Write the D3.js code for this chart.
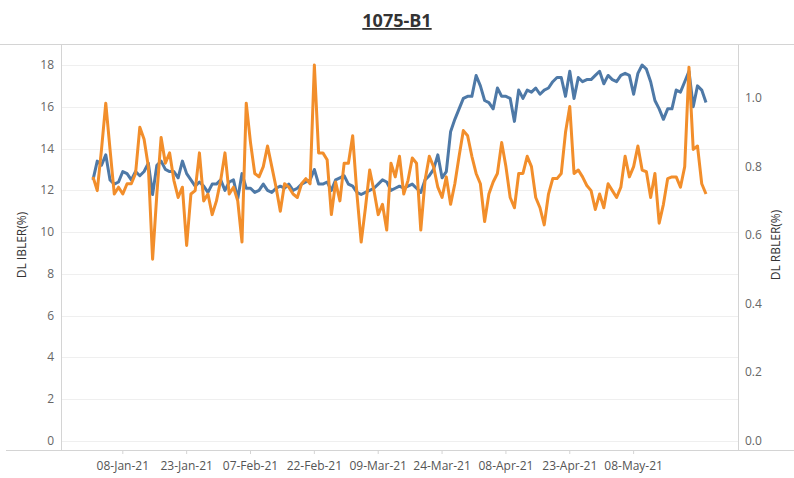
<!DOCTYPE html>
<html><head><meta charset="utf-8">
<script src="https://cdn.jsdelivr.net/npm/d3@7"></script>
<style>body{margin:0;background:#fff;font-family:"Open Sans","Noto Sans",sans-serif}</style>
</head><body><svg id="c" width="794" height="478"></svg>
<script>
const startDate = "2021-01-01";
const ibler = [12.5,13.4,13.2,13.7,12.5,12.3,12.4,12.9,12.8,12.5,12.9,12.7,12.9,13.3,11.8,13.2,13.4,13.0,12.9,12.9,12.6,13.4,12.8,12.5,12.2,12.4,12.2,11.9,12.3,12.3,12.5,12.0,12.4,12.5,11.6,12.8,12.1,12.1,11.9,12.0,12.3,12.0,11.9,12.1,12.2,12.1,12.3,12.0,12.1,12.3,12.4,12.5,13.0,12.3,12.3,12.4,12.0,12.5,12.6,12.7,12.3,12.2,11.9,11.8,11.9,12.0,12.1,12.3,12.5,12.4,12.0,12.1,12.2,12.1,12.2,12.3,12.1,11.9,12.5,12.7,13.0,13.7,12.6,12.9,14.8,15.4,15.9,16.4,16.5,16.5,17.5,17.0,16.3,16.2,15.9,16.9,16.5,16.5,16.4,15.3,16.8,16.4,16.8,16.7,16.9,16.6,16.8,16.9,17.2,17.4,17.4,16.5,17.7,16.4,17.4,17.2,17.3,17.3,17.5,17.7,17.1,17.5,17.3,17.2,17.5,17.6,17.5,16.6,17.6,18.0,17.8,17.2,16.3,15.9,15.4,15.9,15.9,16.8,16.7,17.2,17.7,16.0,17.0,16.8,16.2];
const rbler = [0.77,0.73,0.85,0.985,0.85,0.72,0.74,0.72,0.75,0.75,0.78,0.915,0.88,0.80,0.53,0.72,0.885,0.81,0.84,0.76,0.71,0.74,0.57,0.72,0.73,0.84,0.70,0.72,0.66,0.70,0.76,0.84,0.72,0.74,0.70,0.58,0.985,0.87,0.78,0.77,0.80,0.86,0.80,0.74,0.67,0.75,0.74,0.72,0.71,0.75,0.765,0.75,1.096,0.84,0.84,0.82,0.66,0.755,0.70,0.81,0.81,0.89,0.72,0.58,0.68,0.79,0.73,0.66,0.69,0.615,0.81,0.77,0.83,0.72,0.76,0.825,0.81,0.615,0.76,0.83,0.80,0.74,0.71,0.77,0.69,0.75,0.83,0.905,0.89,0.83,0.78,0.75,0.64,0.72,0.755,0.78,0.87,0.80,0.71,0.68,0.78,0.78,0.83,0.80,0.71,0.68,0.63,0.72,0.765,0.765,0.78,0.90,0.975,0.78,0.79,0.77,0.745,0.73,0.675,0.72,0.68,0.75,0.73,0.71,0.74,0.83,0.77,0.80,0.86,0.79,0.785,0.71,0.78,0.635,0.69,0.765,0.77,0.77,0.74,0.80,1.09,0.85,0.86,0.75,0.72];
const xTickLabels = ["08-Jan-21","23-Jan-21","07-Feb-21","22-Feb-21","09-Mar-21","24-Mar-21","08-Apr-21","23-Apr-21","08-May-21"];
const leftTicks = [0,2,4,6,8,10,12,14,16,18];
const rightTicks = [0,0.2,0.4,0.6,0.8,1.0];

const svg = d3.select("#c");
const parse = d3.utcParse("%Y-%m-%d");
const parseTick = d3.utcParse("%d-%b-%y");
const t0 = parse(startDate);
const dates = ibler.map((_, i) => d3.utcDay.offset(t0, i));
const x = d3.scaleUtc().domain([t0, d3.utcDay.offset(t0, 144)]).range([93, 706]);
const yL = d3.scaleLinear().domain([0, 18]).range([441, 65]);
const yR = d3.scaleLinear().domain([0, 1]).range([441, 98]);
const grey = "#d4d4d4";

svg.append("text").attr("x", 397).attr("y", 27).attr("text-anchor", "middle")
  .attr("font-size", 18).attr("font-weight", "bold").attr("fill", "#333")
  .attr("text-decoration", "underline").text("1075-B1");
svg.append("line").attr("x1", 0).attr("x2", 794).attr("y1", 44.5).attr("y2", 44.5).attr("stroke", grey);

// gridlines
svg.append("g").selectAll("line").data(leftTicks).join("line")
  .attr("x1", 62).attr("x2", 738).attr("y1", d => Math.round(yL(d)) + 0.5).attr("y2", d => Math.round(yL(d)) + 0.5)
  .attr("stroke", "#efefef");

// axes lines
svg.append("line").attr("x1", 61.5).attr("x2", 61.5).attr("y1", 44).attr("y2", 450).attr("stroke", grey);
svg.append("line").attr("x1", 738.5).attr("x2", 738.5).attr("y1", 44).attr("y2", 450).attr("stroke", grey);
svg.append("line").attr("x1", 6).attr("x2", 794).attr("y1", 450.5).attr("y2", 450.5).attr("stroke", grey);

svg.append("g").selectAll("text").data(leftTicks).join("text")
  .attr("x", 54).attr("y", d => yL(d) + 4).attr("text-anchor", "end")
  .attr("font-size", 12).attr("fill", "#666").text(d => d);
svg.append("g").selectAll("text").data(rightTicks).join("text")
  .attr("x", 745).attr("y", d => yR(d) + 4).attr("text-anchor", "start")
  .attr("font-size", 12).attr("fill", "#666").text(d => d.toFixed(1));

const xt = svg.append("g");
xTickLabels.forEach(l => {
  const px = x(parseTick(l));
  xt.append("line").attr("x1", px).attr("x2", px).attr("y1", 450).attr("y2", 454).attr("stroke", grey);
  xt.append("text").attr("x", px).attr("y", 470).attr("text-anchor", "middle")
    .attr("font-size", 12).attr("fill", "#555").text(l);
});

svg.append("text").attr("transform", "translate(26,245) rotate(-90)").attr("text-anchor", "middle")
  .attr("font-size", 12).attr("fill", "#333").text("DL IBLER(%)");
svg.append("text").attr("transform", "translate(780,245) rotate(-90)").attr("text-anchor", "middle")
  .attr("font-size", 12).attr("fill", "#333").text("DL RBLER(%)");

svg.append("path").datum(ibler).attr("fill", "none").attr("stroke", "#4e79a7").attr("stroke-width", 3)
  .attr("stroke-linejoin", "round")
  .attr("d", d3.line().x((d, i) => x(dates[i])).y(d => yL(d)));
svg.append("path").datum(rbler).attr("fill", "none").attr("stroke", "#f28e2b").attr("stroke-width", 3)
  .attr("stroke-linejoin", "round")
  .attr("d", d3.line().x((d, i) => x(dates[i])).y(d => yR(d)));
</script></body></html>
